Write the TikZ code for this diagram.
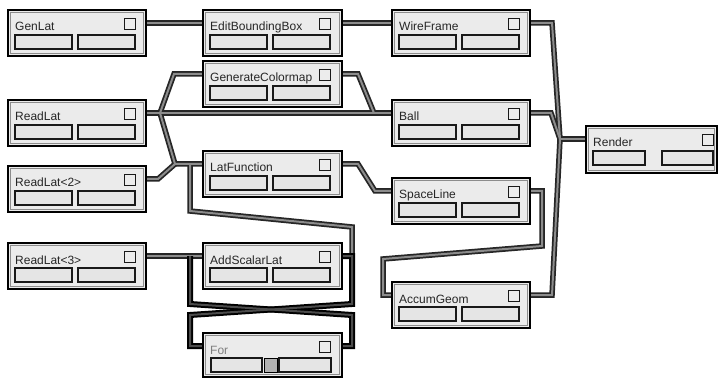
\documentclass[tikz,border=0pt]{standalone}
\usepackage{fontspec}
\setmainfont{Liberation Sans}
\usetikzlibrary{calc}
\pgfdeclarelayer{background}
\pgfsetlayers{background,main}
\tikzset{
  modframe/.style={draw=black, line width=1.3pt, fill=gray!16, inner sep=0pt, outer sep=0pt, anchor=north west},
  subrect/.style={draw=black!90, line width=1.1pt, fill=gray!20},
  sqbox/.style={draw=black!90, line width=0.9pt, fill=gray!15},
  lbl/.style={font=\fontsize{12}{14}\selectfont, text=black!85, inner sep=0pt, anchor=base west},
  wireout/.style={draw=black!85, line width=5.5pt},
  wirein/.style={draw=black!45, line width=2pt},
  loopout/.style={draw=black, line width=6pt},
  loopin/.style={draw=black!70, line width=2pt},
}
\newcommand\modbox[6]{%
  \node[modframe, minimum width=#4pt, minimum height=#5pt] (#1) at (#2,#3) {};
  \draw[black!45, line width=0.6pt] ([shift={(2.5,2.5)}]#1.north west) rectangle ([shift={(-2.5,-2.5)}]#1.south east);
  \draw[sqbox] ([shift={(116,8)}]#1.north west) rectangle ++(11,11);
  \node[lbl] (#1-t) at ([shift={(7,21)}]#1.north west) {#6};
  \coordinate (#1-w) at ([shift={(0,13)}]#1.north west);
  \coordinate (#1-e) at ([shift={(0,13)}]#1.north east);
}
\newcommand\msub[3]{\draw[subrect] ([shift={(#2,25)}]#1.north west) rectangle ([shift={(#3,39)}]#1.north west);}
\newcommand\stdsubs[1]{\msub{#1}{7}{64}\msub{#1}{70}{127}}
\newcommand\graywires[1]{%
  \draw[#1] (genlat-e) -- (editbb-w);
  \draw[#1] (editbb-e) -- (wireframe-w);
  \draw[#1] (wireframe-e) -- ++(22,0) -- (jr);
  \draw[#1] (ball-e) -- ++(21,0) -- (jr);
  \draw[#1] (accum-e) -- ++(22,0) -- (jr);
  \draw[#1] (jr) -- (render-w);
  \draw[#1] (readlat-e) -- (ball-w);
  \draw[#1] (jl) -- ([shift={(-29,0)}]gencmap-w) -- (gencmap-w);
  \draw[#1] (jl) -- ([shift={(-28,0)}]latfunc-w) -- (latfunc-w);
  \draw[#1] (readlat2-e) -- ++(12,0) -- ([shift={(-28,0)}]latfunc-w);
  \draw[#1] (gencmap-e) -- ++(16,0) -- ([shift={(-18,0)}]ball-w);
  \draw[#1] (latfunc-e) -- ++(16,0) -- ([shift={(-17,0)}]spaceline-w) -- (spaceline-w);
  \draw[#1] ([shift={(-13,0)}]latfunc-w) -- ([shift={(-13,47)}]latfunc-w) -- ([shift={(10,-29)}]addsc-e) -- ([shift={(10,0)}]addsc-e) -- (addsc-e);
  \draw[#1] (spaceline-e) -- ++(12,0) -- ++(0,55) -- ([shift={(-9,-36)}]accum-w) -- ([shift={(-9,0)}]accum-w) -- (accum-w);
  \draw[#1] (readlat3-e) -- (addsc-w);
}
\newcommand\loopwires[1]{%
  \draw[#1] ([shift={(-13,0)}]addsc-w) -- ++(0,48) -- ([shift={(10,-31)}]for-e) -- ([shift={(10,0)}]for-e) -- (for-e);
  \draw[#1] (addsc-e) -- ++(10,0) -- ++(0,48) -- ([shift={(-13,-31)}]for-w) -- ([shift={(-13,0)}]for-w) -- (for-w);
}
\begin{document}
\begin{tikzpicture}[x=1pt,y=-1pt]
\useasboundingbox (0,0) rectangle (719,379);
\modbox{genlat}{8}{10}{138}{46}{GenLat}\stdsubs{genlat}
\modbox{editbb}{203}{10}{139}{46}{EditBoundingBox}\stdsubs{editbb}
\modbox{wireframe}{392}{10}{138}{46}{WireFrame}\stdsubs{wireframe}
\modbox{gencmap}{203}{61}{139}{46}{GenerateColormap}\stdsubs{gencmap}
\modbox{readlat}{8}{100}{138}{46}{ReadLat}\stdsubs{readlat}
\modbox{ball}{392}{100}{138}{46}{Ball}\stdsubs{ball}
\modbox{render}{586}{126}{131}{47}{Render}\msub{render}{7}{59}\msub{render}{76}{127}
\modbox{readlat2}{8}{166}{138}{46}{ReadLat<2>}\stdsubs{readlat2}
\modbox{latfunc}{203}{151}{139}{46}{LatFunction}\stdsubs{latfunc}
\modbox{spaceline}{392}{178}{138}{46}{SpaceLine}\stdsubs{spaceline}
\modbox{readlat3}{8}{243}{138}{46}{ReadLat<3>}\stdsubs{readlat3}
\modbox{addsc}{203}{243}{139}{46}{AddScalarLat}\stdsubs{addsc}
\modbox{accum}{392}{282}{138}{46}{AccumGeom}\stdsubs{accum}
\modbox{for}{203}{333}{139}{44}{\textcolor{black!50}{For}}\msub{for}{8}{59}\msub{for}{76}{128}
\draw[draw=black, line width=1pt, fill=gray!60] ([shift={(61,25)}]for.north west) rectangle ([shift={(74,39)}]for.north west);
\coordinate (jr) at ([shift={(-26,0)}]render-w);
\coordinate (jl) at ([shift={(14,0)}]readlat-e);
\begin{pgfonlayer}{background}
\fill[white] (0,0) rectangle (719,379);
\graywires{wireout}
\graywires{wirein}
\loopwires{loopout}
\loopwires{loopin}
\end{pgfonlayer}
\end{tikzpicture}
\end{document}
